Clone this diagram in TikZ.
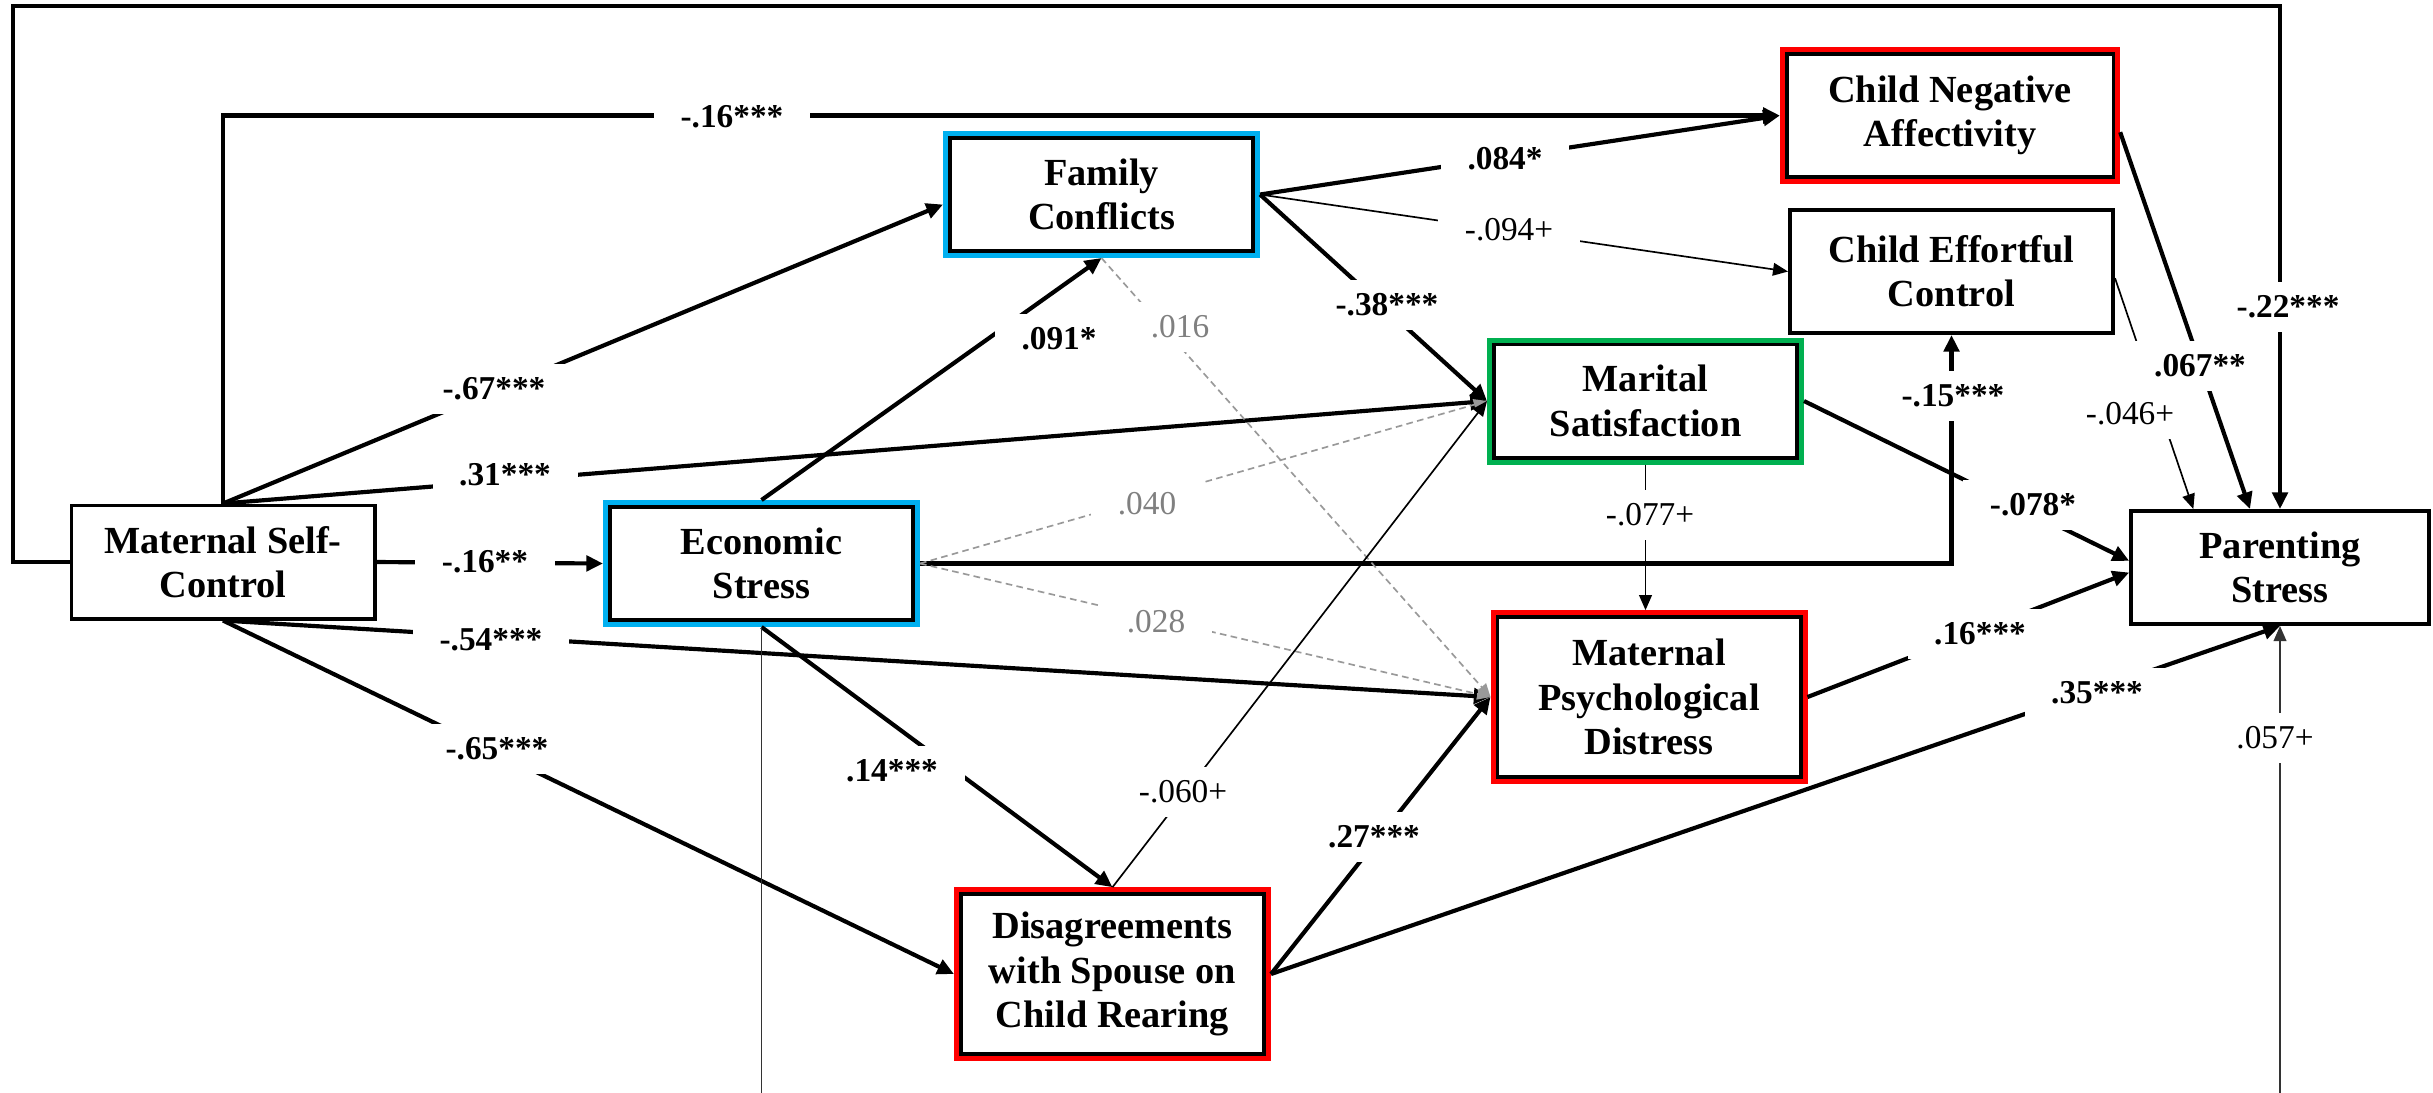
\documentclass[tikz,border=0pt]{standalone}
\usepackage{fontspec}
\setmainfont{Liberation Serif}
\usetikzlibrary{arrows.meta}
\definecolor{cblue}{RGB}{0,176,240}
\definecolor{cgreen}{RGB}{0,176,80}
\definecolor{cred}{RGB}{255,0,0}
\definecolor{cgray}{RGB}{128,128,128}

\begin{document}
\begin{tikzpicture}[x=30pt, y=-30pt,
  var/.style={draw, line width=1.1pt, align=center, inner sep=1pt,
    font=\fontsize{11.5}{13.3}\selectfont\bfseries,
    minimum width=91pt, minimum height=34pt},
  ring/.style={outer sep=2.05pt, append after command={\pgfextra{%
    \draw[#1, line width=1.5pt]
      ([shift={(0.75pt,0.75pt)}]\tikzlastnode.south west) rectangle
      ([shift={(-0.75pt,-0.75pt)}]\tikzlastnode.north east);}}},
  sig/.style={line width=1.25pt, -{Triangle[length=5pt, width=4.6pt]}},
  trend/.style={line width=0.5pt, -{Triangle[length=4.5pt, width=3.8pt]}},
  ns/.style={black!40, line width=0.5pt, dash pattern=on 2pt off 1.3pt,
    -{Triangle[length=4pt, width=3.4pt]}},
  coef/.style={fill=white, inner xsep=8pt, inner ysep=4pt,
    font=\fontsize{10}{12}\selectfont\bfseries},
  coefn/.style={coef, font=\fontsize{10}{12}\selectfont},
  coefg/.style={coefn, text=cgray}]
\path[use as bounding box, fill=white] (0,0) rectangle (24.33,10.92);

% variables
\node[var] (msc) at (2.23, 5.62) {Maternal Self-\\Control};
\node[var, ring=cblue] (econ) at (7.615, 5.635) {Economic\\Stress};
\node[var, ring=cblue] (fam) at (11.015, 1.945) {Family\\Conflicts};
\node[var, ring=cred, minimum width=98pt, minimum height=37pt] (neg)
  at (19.50, 1.155) {Child Negative\\Affectivity};
\node[var, minimum width=97pt, minimum height=37pt] (eff)
  at (19.515, 2.715) {Child Effortful\\Control};
\node[var, ring=cgreen] (marit) at (16.455, 4.01) {Marital\\Satisfaction};
\node[var, ring=cred, minimum height=48pt] (distr)
  at (16.49, 6.97) {Maternal\\Psychological\\Distress};
\node[var, ring=cred, minimum height=48pt] (disag)
  at (11.125, 9.74) {Disagreements\\with Spouse on\\Child Rearing};
\node[var, minimum width=89.4pt] (ps) at (22.80, 5.675) {Parenting\\Stress};
\coordinate (tl) at (0.13, 0.06);

% paths
\draw[sig] (msc.west) -| (tl) -| (ps.north);
\draw[sig] (msc.north) |- (neg.west);
\draw[sig] (msc.north) -- ([yshift=-3pt]fam.west);
\draw[sig] (msc.north) -- (marit.west);
\draw[sig] (msc.east) -- (econ.west);
\draw[sig] (msc.south) -- (distr.west);
\draw[sig] (msc.south) -- (disag.west);
\draw[sig] (econ.north) -- (fam.south);
\draw[sig] (econ.east) -| (eff.south);
\draw[sig] (econ.south) -- (disag.north);
\draw[ns] (econ.east) -- (marit.west);
\draw[ns] (econ.east) -- (distr.west);
\draw[trend, black!80] (econ.south) -- ++(0,5) -| (ps.south);
\draw[sig] (fam.east) -- (neg.west);
\draw[trend] (fam.east) -- (eff.west);
\draw[sig] (fam.east) -- (marit.west);
\draw[ns] (fam.south) -- (distr.west);
\draw[trend] (disag.north) -- (marit.west);
\draw[sig] (disag.east) -- (distr.west);
\draw[sig] (disag.east) -- (ps.south);
\draw[trend] (marit.south) -- (marit.south |- distr.north);
\draw[sig] (marit.east) -- ([yshift=2pt]ps.west);
\draw[sig] (distr.east) -- ([yshift=-1.5pt]ps.west);
\draw[sig] ([yshift=-5pt]neg.east) -- ([xshift=-9pt]ps.north);
\draw[trend] ([yshift=-2pt]eff.east) -- ([xshift=-26pt]ps.north);

% coefficients
\node[coef] (e-ms-neg) at (7.32, 1.17) {-.16***};
\node[coef] (e-ms-fam) at (4.94, 3.89) {-.67***};
\node[coef] (e-ms-mar) at (5.05, 4.75) {.31***};
\node[coef] (e-ms-ec) at (4.85, 5.62) {-.16**};
\node[coef] (e-ms-dis) at (4.91, 6.40) {-.54***};
\node[coef] (e-ms-dsg) at (4.97, 7.49) {-.65***};
\node[coef] (e-ms-ps) at (22.88, 3.07) {-.22***};
\node[coef] (e-ec-fam) at (10.59, 3.39) {.091*};
\node[coef] (e-ec-eff) at (19.53, 3.96) {-.15***};
\node[coef] (e-ec-dsg) at (8.92, 7.71) {.14***};
\node[coefg] (e-ec-mar) at (11.47, 5.04) {.040};
\node[coefg] (e-ec-dis) at (11.56, 6.22) {.028};
\node[coefn] (e-ec-ps) at (22.75, 7.38) {.057+};
\node[coef] (e-fam-neg) at (15.05, 1.59) {.084*};
\node[coefn] (e-fam-eff) at (15.09, 2.30) {-.094+};
\node[coef] (e-fam-mar) at (13.87, 3.05) {-.38***};
\node[coefg] (e-fam-dis) at (11.80, 3.27) {.016};
\node[coefn] (e-dsg-mar) at (11.83, 7.92) {-.060+};
\node[coef] (e-dsg-dis) at (13.74, 8.37) {.27***};
\node[coef] (e-dsg-ps) at (20.97, 6.93) {.35***};
\node[coefn] (e-mar-dis) at (16.50, 5.15) {-.077+};
\node[coef] (e-mar-ps) at (20.33, 5.05) {-.078*};
\node[coef] (e-dis-ps) at (19.80, 6.34) {.16***};
\node[coef] (e-neg-ps) at (22.00, 3.66) {.067**};
\node[coefn] (e-eff-ps) at (21.30, 4.14) {-.046+};
\end{tikzpicture}
\end{document}
